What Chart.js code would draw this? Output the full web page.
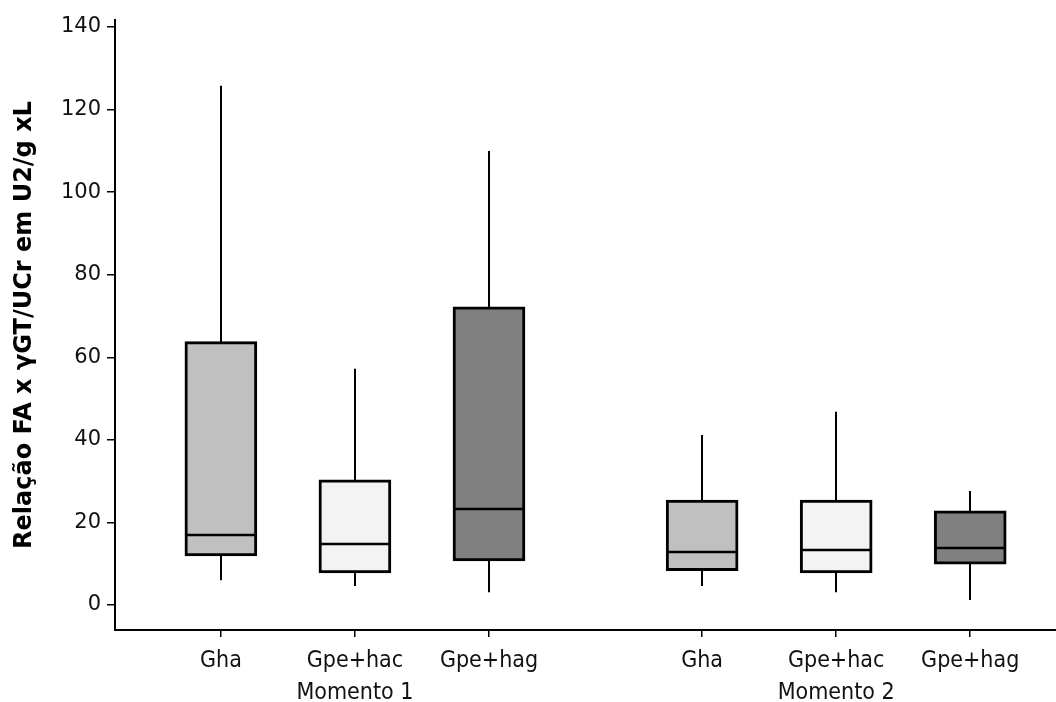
<!DOCTYPE html>
<html>
<head>
<meta charset="utf-8">
<script src="https://cdn.jsdelivr.net/npm/chart.js@4.4.0/dist/chart.umd.min.js"></script>
<style>
  html, body { margin: 0; padding: 0; background: #fff; }
  #wrap { width: 1056px; height: 702px; }
</style>
</head>
<body>
<div id="wrap"><canvas id="chart"></canvas></div>
<script>
// --------------------
// Data
// --------------------
const categories = ['Gha', 'Gpe+hac', 'Gpe+hag', 'Gha', 'Gpe+hac', 'Gpe+hag'];
const groupLabels = ['Momento 1', 'Momento 2'];
const positions = [1, 2, 3, 4.59, 5.59, 6.59];
const whiskerLow = [6.0, 4.6, 3.1, 4.6, 3.1, 1.2];
const q1 = [11.9, 7.8, 10.7, 8.3, 7.8, 9.9];
const median = [17.0, 14.7, 23.3, 12.8, 13.4, 13.9];
const q3 = [63.8, 30.3, 72.2, 25.4, 25.4, 22.8];
const whiskerHigh = [125.8, 57.2, 110.0, 41.2, 46.8, 27.6];
const yTicks = [0, 20, 40, 60, 80, 100, 120, 140];

const boxColors = ['#c0c0c0', '#f3f3f3', '#808080', '#c0c0c0', '#f3f3f3', '#808080'];

const boxPlotLines = {
    id: 'boxPlotLines',
    beforeDatasetsDraw(chart) {
        const { ctx, scales: { x, y } } = chart;
        ctx.save();
        ctx.strokeStyle = '#000';
        ctx.lineWidth = 2;
        positions.forEach((p, i) => {
            const px = Math.round(x.getPixelForValue(p));
            ctx.beginPath();
            ctx.moveTo(px, y.getPixelForValue(whiskerLow[i]));
            ctx.lineTo(px, y.getPixelForValue(whiskerHigh[i]));
            ctx.stroke();
        });
        ctx.restore();
    },
    afterDatasetsDraw(chart) {
        const { ctx, scales: { x, y } } = chart;
        const half = 35.5;
        ctx.save();
        ctx.strokeStyle = '#000';
        ctx.lineWidth = 2.5;
        positions.forEach((p, i) => {
            const px = x.getPixelForValue(p);
            const py = Math.round(y.getPixelForValue(median[i]));
            ctx.beginPath();
            ctx.moveTo(px - half, py);
            ctx.lineTo(px + half, py);
            ctx.stroke();
        });
        ctx.restore();
    }
};

const fontFamily = 'Verdana, "DejaVu Sans", sans-serif';

new Chart(document.getElementById('chart'), {
    type: 'bar',
    data: {
        datasets: [{
            data: positions.map((p, i) => ({ x: p, y: [q1[i], q3[i]] })),
            backgroundColor: boxColors,
            borderColor: '#000',
            borderWidth: 3,
            borderSkipped: false,
            barThickness: 72,
        }]
    },
    options: {
        responsive: true,
        maintainAspectRatio: false,
        animation: false,
        layout: { padding: { top: 20, right: 0, left: 0, bottom: 0 } },
        plugins: {
            legend: { display: false },
            tooltip: { enabled: false },
        },
        scales: {
            x: {
                type: 'linear',
                offset: false,
                min: 0.21,
                max: 7.23,
                afterBuildTicks: (scale) => {
                    scale.ticks = positions.map(v => ({ value: v }));
                },
                afterFit: (scale) => { scale.height = 72; },
                grid: {
                    offset: false,
                    drawOnChartArea: false,
                    drawTicks: true,
                    tickLength: 7,
                    color: '#000',
                    lineWidth: 1.5,
                },
                border: { display: true, color: '#000', width: 2 },
                ticks: {
                    autoSkip: false,
                    maxRotation: 0,
                    padding: 9,
                    color: '#111',
                    font: { family: '"DejaVu Sans Condensed", "DejaVu Sans", sans-serif', size: 23, lineHeight: 1.35 },
                    callback: (value) => {
                        const i = positions.indexOf(value);
                        if (i === 1) return [categories[i], groupLabels[0]];
                        if (i === 4) return [categories[i], groupLabels[1]];
                        return categories[i];
                    }
                }
            },
            y: {
                min: -6.05,
                max: 141.7,
                afterBuildTicks: (scale) => {
                    scale.ticks = yTicks.map(v => ({ value: v }));
                },
                afterFit: (scale) => { scale.width = 115; },
                grid: {
                    drawOnChartArea: false,
                    drawTicks: true,
                    tickLength: 8,
                    color: '#000',
                    lineWidth: 1.5,
                },
                border: { display: true, color: '#000', width: 2 },
                ticks: {
                    padding: 6,
                    color: '#111',
                    font: { family: fontFamily, size: 21 },
                },
                title: {
                    display: true,
                    text: 'Relação FA x γGT/UCr em U2/g xL',
                    color: '#000',
                    padding: { top: 10, bottom: 0 },
                    font: { family: fontFamily, size: 24, weight: 'bold' },
                }
            }
        }
    },
    plugins: [boxPlotLines]
});
</script>
</body>
</html>
